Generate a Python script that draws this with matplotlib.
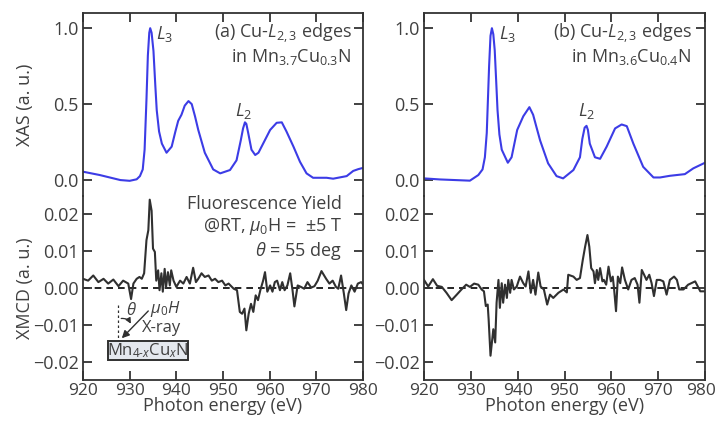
import matplotlib
matplotlib.use("Agg")
import matplotlib.pyplot as plt
from matplotlib.patches import FancyArrowPatch, Rectangle
from matplotlib.transforms import ScaledTranslation

plt.rcParams['font.family'] = ['Open Sans', 'DejaVu Sans']
plt.rcParams['mathtext.fontset'] = 'custom'
plt.rcParams['mathtext.rm'] = 'Open Sans'
plt.rcParams['mathtext.it'] = 'Open Sans:italic'
plt.rcParams['mathtext.bf'] = 'Open Sans:bold'

TXT = '#404040'
SPINE = '#333333'
BLUE = '#3c3ce6'
DARK = '#303030'

# ---------------- data ----------------
xas_a_E = [920, 923.6, 928, 930, 931.5, 932.2, 932.8, 933.2, 933.6, 933.9, 934.2, 934.4, 934.7,
           935.1, 935.5, 935.8, 936.3, 936.9, 937.9, 939, 939.8,
           940.4, 941.1, 941.8, 942.6, 943.3, 944.0, 944.7, 946.1, 947.9, 949.4, 951.5, 952.9,
           953.8, 954.3, 954.7, 955.0, 955.4, 956.1, 956.9, 957.6, 958.6, 960.1, 961.5, 962.6,
           963.6, 965.1, 966.5, 967.9, 969.3, 972.2, 973.6, 976.5, 977.9, 979, 980]
xas_a = [0.055, 0.033, 0.0, -0.005, 0.005, 0.026, 0.07, 0.2, 0.53, 0.82, 0.97, 1.0, 0.97,
         0.85, 0.62, 0.46, 0.32, 0.24, 0.18, 0.22, 0.32,
         0.39, 0.43, 0.49, 0.52, 0.50, 0.42, 0.33, 0.18, 0.07, 0.044, 0.066, 0.13,
         0.26, 0.34, 0.38, 0.37, 0.31, 0.20, 0.165, 0.18, 0.24, 0.33, 0.377, 0.38,
         0.32, 0.22, 0.12, 0.044, 0.015, 0.015, 0.009, 0.026, 0.06, 0.072, 0.08]

xas_b_E = [920, 923.4, 929.8, 931.6, 932.5, 933.0, 933.4, 933.9, 934.2, 934.5, 934.8, 935.1,
           935.4, 935.7, 936.1, 936.6, 937.9,
           938.7, 939.9, 941.2, 942.5, 943.3, 944.0, 944.8, 946.5, 948.3, 949.7, 951.9, 953.3,
           953.8, 954.3, 954.7, 955.0, 955.4, 956.5, 957.6, 959, 960.8, 962.2, 963.3, 964.7,
           966.8, 969, 970.4, 972.5, 975.7, 977.5, 980]
xas_b = [0.011, 0.004, -0.004, 0.033, 0.07, 0.15, 0.31, 0.75, 0.95, 1.0, 0.96, 0.855,
         0.66, 0.46, 0.3, 0.20, 0.114,
         0.15, 0.33, 0.42, 0.48, 0.43, 0.35, 0.26, 0.11, 0.026, 0.011, 0.066, 0.15,
         0.27, 0.345, 0.357, 0.33, 0.24, 0.15, 0.14, 0.22, 0.34, 0.366, 0.355, 0.24,
         0.087, 0.017, 0.017, 0.028, 0.039, 0.077, 0.114]

xmcd_a_E = [920, 921.1, 922.2, 923.3, 924.4, 925.4, 926.5, 927.6, 928.6, 929.7, 930.3, 930.8,
            931.5, 932.1, 932.6, 933.1, 933.6, 934, 934.3, 934.7, 935, 935.4, 935.7, 936.1,
            936.4, 936.8, 937.1, 937.5, 937.8, 938.2, 938.6, 938.9, 939.4, 940, 940.8, 941.5,
            942.2, 942.9, 943.6, 944.2, 944.7, 945.4, 946.1, 946.9, 947.6, 948.3, 949, 949.8,
            950.5, 951.2, 952.3, 953, 953.6, 954.1, 954.6, 955, 955.5, 956, 956.5, 957, 957.5,
            958, 958.6, 959, 959.5, 960.1, 960.6, 961.1, 961.6, 962.2, 962.7, 963.2, 963.8,
            964.4, 964.9, 965.3, 966, 966.7, 967.4, 968.1, 968.9, 969.6, 970.3, 971.1, 972.1,
            972.8, 973.5, 974.2, 974.7, 975.3, 975.9, 976.4, 976.9, 977.5, 978.2, 978.9,
            979.6, 980]
xmcd_a = [0.0025, 0.002, 0.0034, 0.0016, 0.0025, 0.0012, 0.0023, 0.0005, 0.002, 0.0012,
          -0.003, 0.0012, 0.0025, 0.003, 0.0025, 0.004, 0.013, 0.0157, 0.024, 0.021, 0.0107,
          0.0098, 0.002, 0.0048, -0.0006, 0.004, -0.001, 0.0052, 0.0003, 0.0043, 0.0007,
          0.0048, 0.002, 0.0003, 0.002, 0.0012, 0.003, 0.0012, 0.0055, 0.0016, 0.0025, 0.004,
          0.003, 0.0034, 0.002, 0.0025, 0.0016, 0.002, 0.0007, 0.0012, -0.0002, -0.0006,
          -0.0065, -0.007, -0.0056, -0.0115, -0.007, -0.0043, -0.0065, -0.002, -0.0033,
          -0.0006, 0.002, 0.0043, -0.001, 0.0007, -0.001, 0.0016, 0.002, -0.0006, 0.0016,
          -0.0006, 0.0007, 0.004, -0.0006, -0.005, 0.0007, 0.0003, -0.0002, 0.0016, 0.0001,
          0.0005, 0.002, 0.0046, 0.0025, 0.0012, 0.002, 0.0003, -0.0002, 0.0034, -0.0015,
          -0.006, -0.0015, 0.0007, -0.001, 0.0012, 0.0016, 0.001]

xmcd_b_E = [920, 920.9, 921.9, 922.8, 923.8, 924.8, 925.9, 927, 928, 929, 929.8, 930.7, 931.6,
            932.3, 932.8, 933.2, 933.6, 933.8, 934.2, 934.5, 934.8, 935.2, 935.5, 935.9,
            936.2, 936.6, 936.9, 937.3, 937.7, 938, 938.4, 938.7, 939.2, 939.8, 940.5, 941.2,
            941.7, 942.3, 942.8, 943.3, 943.8, 944.4, 944.9, 945.6, 946.3, 946.9, 947.6,
            948.7, 949.8, 950.5, 950.8, 951.9, 952.6, 953.3, 953.9, 954.4, 954.9, 955.3,
            955.7, 956.2, 956.5, 956.9, 957.2, 957.6, 958.1, 958.4, 958.9, 959.4, 959.9,
            960.3, 960.6, 961, 961.4, 961.9, 962.3, 962.9, 963.6, 964.3, 965, 965.6, 966,
            966.5, 967, 967.5, 968.1, 968.6, 969.1, 969.7, 970.4, 971.1, 971.8, 972.5, 973.4,
            974, 974.5, 975.4, 976.4, 977.9, 979, 980]
xmcd_b = [0.0022, 0.0004, 0.0024, 0.0006, 0.0003, -0.0013, -0.0033, -0.0018, -0.0004, 0.0009,
          0.0003, 0.0012, 0.0009, -0.0004, -0.0009, -0.0049, -0.0045, -0.0085, -0.0184,
          -0.0148, -0.0112, -0.0148, -0.004, 0.0022, -0.0054, 0.0013, -0.004, 0.0009,
          -0.0027, 0.0022, -0.0013, 0.0022, -0.0004, 0.0004, 0.0031, 0.0013, 0.0004, 0.0045,
          -0.0013, 0.0022, -0.0018, 0.0042, 0.0004, -0.0004, -0.0045, -0.0018, -0.0027,
          -0.0013, -0.0004, -0.0012, 0.0036, 0.0031, 0.0022, 0.0027, 0.0076, 0.0112, 0.0144,
          0.0112, 0.0054, 0.0045, 0.0013, 0.0049, 0.0022, 0.0054, 0.0018, 0.0022, 0.0009,
          0.0058, 0.0018, 0.0031, -0.0004, -0.0063, 0.0031, 0.0013, 0.0056, 0.0022, -0.0004,
          0.0022, 0.0027, 0.0009, -0.004, 0.0049, 0.0036, 0.0022, 0.0036, 0.0013, -0.0022,
          0.0022, 0.0022, 0.0018, -0.0018, 0.0022, 0.0031, 0.0022, -0.0004, -0.0004, 0.0009,
          0.0018, -0.0009, -0.0009]

xticks = [920, 930, 940, 950, 960, 970, 980]
xas_ticks = [0.0, 0.5, 1.0]
xmcd_ticks = [-0.02, -0.01, 0.0, 0.01, 0.02]

# ---------------- figure ----------------
W, H = 718, 421
fig = plt.figure(figsize=(W / 100, H / 100), dpi=100)

def fx(px):
    return px / W

def fy(py):
    return 1 - py / H

panels = [(83, 363), (424, 705)]
top_y, mid_y, bot_y = 13, 196, 380
FS = 13
FS2 = 12

axes = []
for (l, r) in panels:
    at = fig.add_axes([fx(l), fy(mid_y), fx(r) - fx(l), fy(top_y) - fy(mid_y)])
    ab = fig.add_axes([fx(l), fy(bot_y), fx(r) - fx(l), fy(mid_y) - fy(bot_y)])
    for ax in (at, ab):
        ax.set_xlim(920, 980)
        ax.set_facecolor('none')
        for s in ax.spines.values():
            s.set_color(SPINE)
            s.set_linewidth(1.3)
        ax.tick_params(direction='in', length=6.5, width=1.3, color=SPINE,
                       labelcolor=TXT, labelsize=FS, pad=3)
        ax.set_xticks(xticks)
    at.spines['bottom'].set_visible(False)
    ab.spines['top'].set_visible(False)
    at.tick_params(top=True, bottom=False, labelbottom=False, right=True, left=True)
    ab.tick_params(top=False, bottom=True, right=True, left=True)
    ab.tick_params(axis='x', pad=2, labelsize=12.5)
    at.set_ylim(-0.105, 1.1)
    ab.set_ylim(-0.025, 0.025)
    at.set_yticks(xas_ticks)
    ab.set_yticks(xmcd_ticks)
    ab.set_xlabel('Photon energy (eV)', fontsize=FS, color=TXT, labelpad=-1)
    axes.append((at, ab))

(ata, aba), (atb, abb) = axes

# keep the last tick label of the right panel inside the canvas
last = abb.get_xticklabels()[-1]
last.set_transform(last.get_transform() + ScaledTranslation(-3 / 72, 0, fig.dpi_scale_trans))

ata.plot(xas_a_E, xas_a, color=BLUE, lw=1.5)
atb.plot(xas_b_E, xas_b, color=BLUE, lw=1.5)
aba.plot(xmcd_a_E, xmcd_a, color=DARK, lw=1.5)
abb.plot(xmcd_b_E, xmcd_b, color=DARK, lw=1.5)
for ab in (aba, abb):
    ab.axhline(0, color='black', lw=1.2, ls=(0, (4, 3)), zorder=1)

ata.set_ylabel('XAS (a. u.)', fontsize=FS, color=TXT)
aba.set_ylabel('XMCD (a. u.)', fontsize=FS, color=TXT)
ata.yaxis.set_label_coords(-0.175, 0.5)
aba.yaxis.set_label_coords(-0.175, 0.5)

# XAS annotations
ata.text(935.7, 0.965, r'$\mathit{L}_3$', fontsize=FS, color=TXT, ha='left', va='center')
ata.text(954.5, 0.455, r'$\mathit{L}_2$', fontsize=FS, color=TXT, ha='center', va='center')
ata.text(977.6, 0.965, r'(a) Cu-$\mathit{L}_{2,3}$ edges', fontsize=FS, color=TXT,
         ha='right', va='center')
ata.text(977.6, 0.81, r'in Mn$_{3.7}$Cu$_{0.3}$N', fontsize=FS, color=TXT,
         ha='right', va='center')

atb.text(936.0, 0.965, r'$\mathit{L}_3$', fontsize=FS, color=TXT, ha='left', va='center')
atb.text(954.8, 0.455, r'$\mathit{L}_2$', fontsize=FS, color=TXT, ha='center', va='center')
atb.text(977.2, 0.965, r'(b) Cu-$\mathit{L}_{2,3}$ edges', fontsize=FS, color=TXT,
         ha='right', va='center')
atb.text(977.2, 0.81, r'in Mn$_{3.6}$Cu$_{0.4}$N', fontsize=FS, color=TXT,
         ha='right', va='center')

# XMCD annotations
aba.text(975.5, 0.0227, 'Fluorescence Yield', fontsize=FS, color=TXT, ha='right', va='center')
aba.text(975.5, 0.0166, r'@RT, $\mu_0$H =  $\pm$5 T', fontsize=FS, color=TXT,
         ha='right', va='center')
aba.text(975.5, 0.0100, r'$\theta$ = 55 deg', fontsize=FS, color=TXT, ha='right', va='center')

# geometry sketch
aba.plot([927.6, 927.6], [-0.0046, -0.0145], color=DARK, lw=0.9, ls=(0, (2, 2)))
arr = FancyArrowPatch((934.4, -0.0057), (927.9, -0.0142), arrowstyle='-|>',
                      mutation_scale=11, color=DARK, lw=1.0)
aba.add_patch(arr)
arc = FancyArrowPatch((927.6, -0.0084), (930.5, -0.0104), arrowstyle='-|>',
                      connectionstyle='arc3,rad=-0.45', mutation_scale=8, color=DARK, lw=0.9)
aba.add_patch(arc)
aba.text(930.3, -0.0062, r'$\theta$', fontsize=FS2, color=TXT, ha='center', va='center')
aba.text(937.6, -0.0057, r'$\mu_0H$', fontsize=FS2, color=TXT, ha='center', va='center')
aba.text(936.9, -0.0110, 'X-ray', fontsize=FS2, color=TXT, ha='center', va='center')
box = Rectangle((925.4, -0.0197), 942.5 - 925.4, 0.0054, facecolor='#e4e8ee',
                edgecolor=DARK, lw=1.4, zorder=3)
aba.add_patch(box)
aba.text(933.95, -0.0170, r'Mn$_{4\text{-}\mathit{x}}$Cu$_\mathit{x}$N', fontsize=FS2,
         color=TXT, ha='center', va='center', zorder=4)

fig.savefig('out.png', dpi=100)
